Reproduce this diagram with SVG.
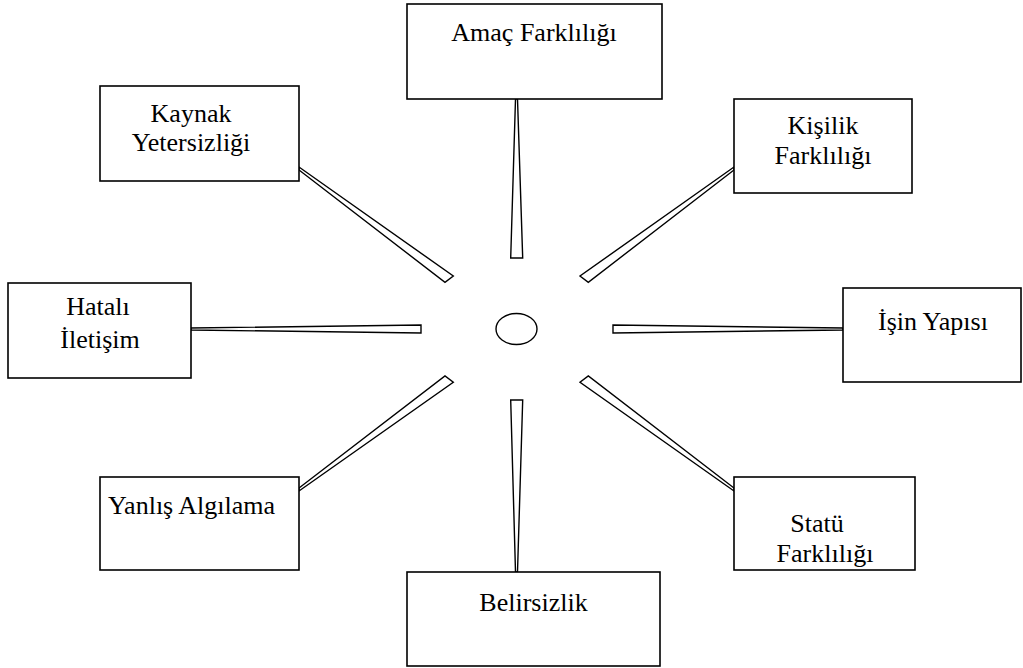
<svg xmlns="http://www.w3.org/2000/svg" width="1023" height="668" viewBox="0 0 1023 668">
<style>
.box{fill:#fff;stroke:#000;stroke-width:1.6}
.w{fill:#fff;stroke:#000;stroke-width:1.4;stroke-linejoin:miter}
text{font-family:"Liberation Serif","Times New Roman",serif;font-size:26px;fill:#000;text-anchor:middle}
</style>
<rect width="1023" height="668" fill="#fff"/>
<g id="connectors">
<polygon class="w" points="515.5,99 517.5,99 522.7,258 510.7,258"/>
<polygon class="w" points="510.7,400 522.7,400 517.5,572 515.5,572"/>
<polygon class="w" points="191,328 191,330 421,333 421,325"/>
<polygon class="w" points="843,328 843,330 613,333 613,325"/>
<polygon class="w" points="299,167 299,170 445,282.3 453.3,276"/>
<polygon class="w" points="734,167 734,170 588.3,282.3 580,276"/>
<polygon class="w" points="299,488 299,491 453.3,382.3 445,376"/>
<polygon class="w" points="734,488 734,491 580,382.3 588.3,376"/>
</g>
<g id="center"><ellipse cx="516.5" cy="329" rx="20.5" ry="15.5" fill="#fff" stroke="#000" stroke-width="1.4"/></g>
<g id="amac"><rect class="box" x="407" y="4" width="255" height="95"/><text x="534" y="41">Amaç Farklılığı</text></g>
<g id="kaynak"><rect class="box" x="100" y="86" width="199" height="95"/><text x="191" y="122">Kaynak</text><text x="191" y="151">Yetersizliği</text></g>
<g id="kisilik"><rect class="box" x="734" y="99" width="178" height="94"/><text x="823" y="134">Kişilik</text><text x="823" y="164">Farklılığı</text></g>
<g id="hatali"><rect class="box" x="8" y="283" width="183" height="95"/><text x="98" y="315">Hatalı</text><text x="100" y="348">İletişim</text></g>
<g id="isin"><rect class="box" x="843" y="288" width="178" height="94"/><text x="933" y="330">İşin Yapısı</text></g>
<g id="yanlis"><rect class="box" x="100" y="477" width="199" height="93"/><text x="191.5" y="514">Yanlış Algılama</text></g>
<g id="statu"><rect class="box" x="734" y="477" width="181" height="93"/><text x="817" y="532">Statü</text><text x="825" y="562">Farklılığı</text></g>
<g id="belirsizlik"><rect class="box" x="407" y="572" width="253" height="94"/><text x="533.5" y="611">Belirsizlik</text></g>
</svg>
